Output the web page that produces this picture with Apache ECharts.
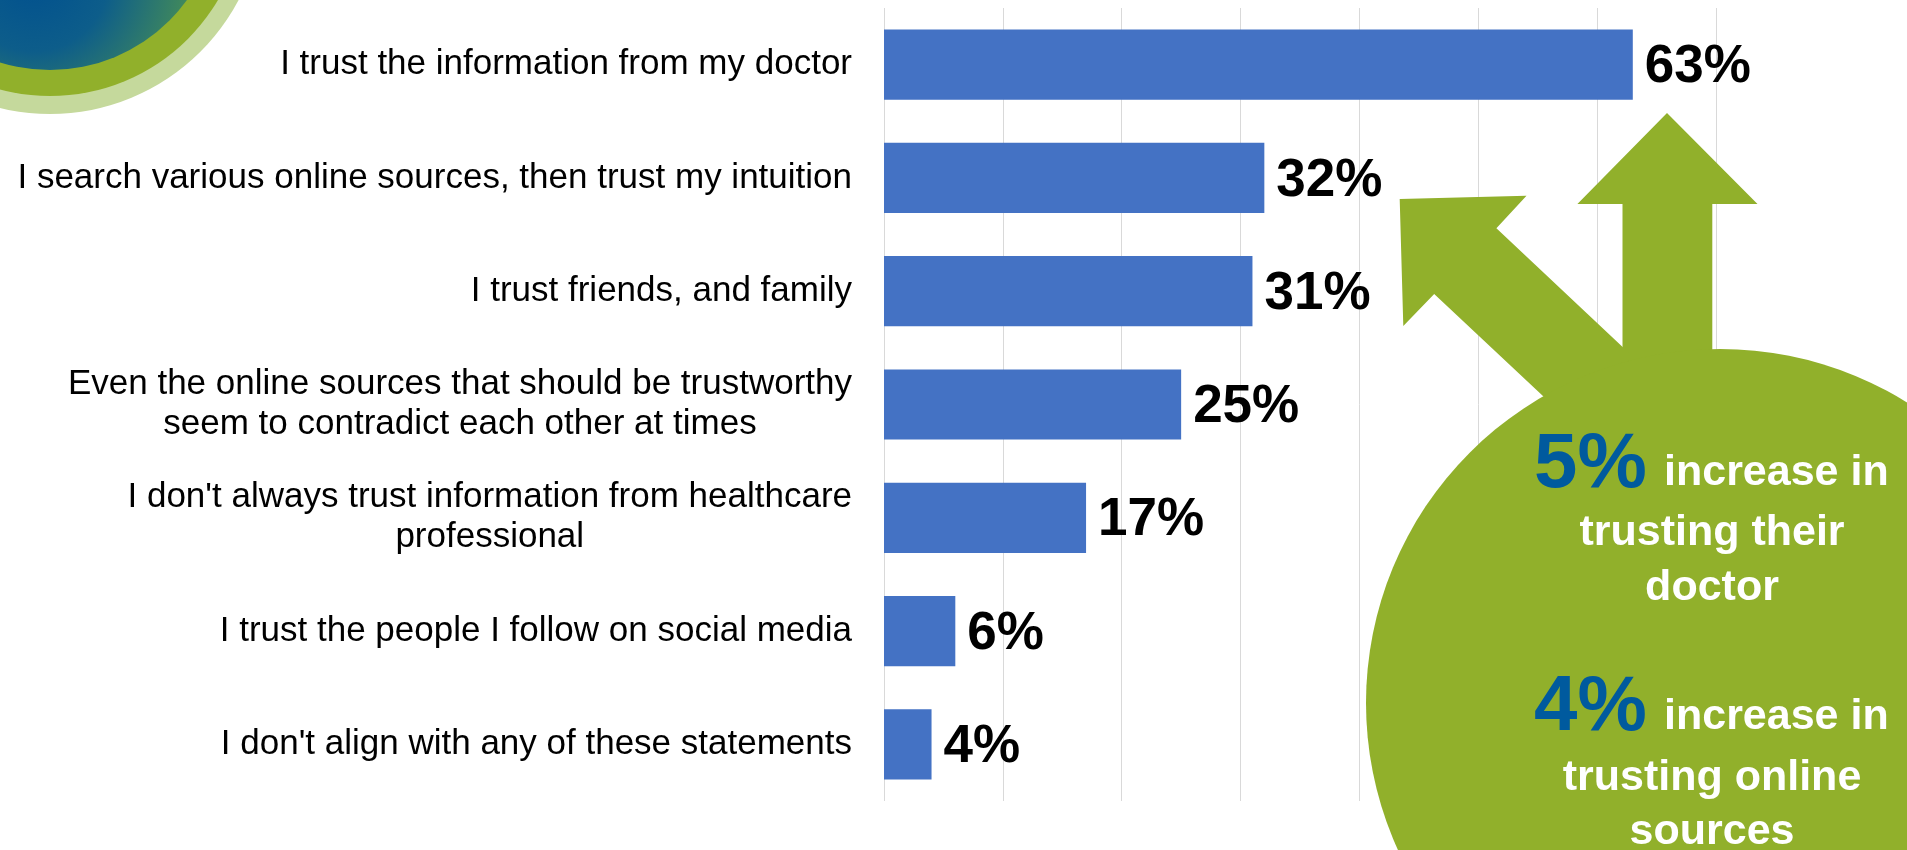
<!DOCTYPE html>
<html>
<head>
<meta charset="utf-8">
<style>
  html, body { margin: 0; padding: 0; background: #ffffff; }
  #chart { width: 1907px; height: 850px; }
</style>
<script src="https://cdn.jsdelivr.net/npm/echarts@6/dist/echarts.min.js"></script>
</head>
<body>
<div id="chart"></div>
<script>
// Survey answers, top to bottom
const categories = [
  'I trust the information from my doctor',
  'I search various online sources, then trust my intuition',
  'I trust friends, and family',
  'Even the online sources that should be trustworthy\nseem to contradict each other at times',
  "I don't always trust information from healthcare\nprofessional",
  'I trust the people I follow on social media',
  "I don't align with any of these statements"
];
// Share of respondents (%)
const shares = [63, 32, 31, 25, 17, 6, 4];
// Value-axis gridline steps (%)
const axisTicks = [0, 10, 20, 30, 40, 50, 60, 70];

// Callout figures
const calloutFigures = ['5%', '4%'];
const calloutLines = [
  ['increase in', 'trusting their', 'doctor'],
  ['increase in', 'trusting online', 'sources']
];

const FONT = "'Liberation Sans', Arial, Helvetica, sans-serif";
const GREEN = '#91B02B';
const chart = echarts.init(document.getElementById('chart'));

// Baseline-based placement helper for callout text
function calloutText(text, x, baseline, size, color, align) {
  return {
    type: 'text',
    z: 120,
    x: x,
    y: baseline - size * 0.35,
    style: {
      text: text,
      fill: color,
      font: 'bold ' + size + 'px ' + FONT,
      align: align,
      verticalAlign: 'middle'
    }
  };
}

const blueFill = new echarts.graphic.RadialGradient(0.45, 0.72, 0.45, [
  { offset: 0, color: '#00508F' },
  { offset: 0.5, color: '#0D5D8A' },
  { offset: 1, color: '#3E875E' }
]);

const graphics = [
  // corner emblem
  { type: 'circle', z: 100, shape: { cx: 50, cy: -99, r: 213 }, style: { fill: '#C5D99C' } },
  { type: 'circle', z: 100, shape: { cx: 50, cy: -99, r: 195 }, style: { fill: GREEN } },
  { type: 'circle', z: 100, shape: { cx: 50, cy: -99, r: 169 }, style: { fill: blueFill } },
  // upward arrow
  { type: 'polygon', z: 100, shape: { points: [
      [1667, 113], [1757.5, 204], [1712.3, 204], [1712.3, 430],
      [1622.5, 430], [1622.5, 204], [1577.4, 204]
    ] }, style: { fill: GREEN } },
  // diagonal arrow
  { type: 'polygon', z: 100, shape: { points: [
      [1399.7, 199], [1526.5, 195.7], [1496.4, 228.3], [1700, 419.7],
      [1640, 487], [1434.2, 294], [1403.3, 326]
    ] }, style: { fill: GREEN } },
  // callout disc
  { type: 'circle', z: 101, shape: { cx: 1720, cy: 703, r: 354 }, style: { fill: GREEN } },

  calloutText(calloutFigures[0], 1534, 493, 78, '#005A9E', 'left'),
  calloutText(calloutLines[0][0], 1664, 488, 43, '#FFFFFF', 'left'),
  calloutText(calloutLines[0][1], 1712, 548, 43, '#FFFFFF', 'center'),
  calloutText(calloutLines[0][2], 1712, 603, 43, '#FFFFFF', 'center'),

  calloutText(calloutFigures[1], 1534, 736, 78, '#005A9E', 'left'),
  calloutText(calloutLines[1][0], 1664, 732, 43, '#FFFFFF', 'left'),
  calloutText(calloutLines[1][1], 1712, 793, 43, '#FFFFFF', 'center'),
  calloutText(calloutLines[1][2], 1712, 847, 43, '#FFFFFF', 'center')
];

const option = {
  animation: false,
  backgroundColor: '#FFFFFF',
  grid: { left: 884, right: 191, top: 8, bottom: 49, containLabel: false },
  xAxis: {
    type: 'value',
    min: axisTicks[0],
    max: axisTicks[axisTicks.length - 1],
    interval: axisTicks[1] - axisTicks[0],
    axisLine: { show: false },
    axisTick: { show: false },
    axisLabel: { show: false },
    splitLine: { show: true, lineStyle: { color: '#D9D9D9', width: 1 } }
  },
  yAxis: {
    type: 'category',
    inverse: true,
    data: categories,
    axisLine: { show: false },
    axisTick: { show: false },
    axisLabel: {
      margin: 32,
      color: '#000000',
      fontFamily: FONT,
      fontSize: 35,
      lineHeight: 40,
      formatter: function (v) {
        return v.split('\n').map(function (l) { return '{c|' + l + '}'; }).join('\n');
      },
      rich: {
        c: { align: 'center', fontSize: 35, lineHeight: 40, fontFamily: FONT, color: '#000000' }
      }
    }
  },
  series: [{
    type: 'bar',
    data: shares,
    barWidth: '62%',
    itemStyle: { color: '#4472C4' },
    label: {
      show: true,
      position: 'right',
      distance: 12,
      offset: [0, 3],
      formatter: '{c}%',
      color: '#000000',
      fontFamily: FONT,
      fontWeight: 'bold',
      fontSize: 53
    }
  }],
  graphic: graphics
};

chart.setOption(option);
</script>
</body>
</html>
